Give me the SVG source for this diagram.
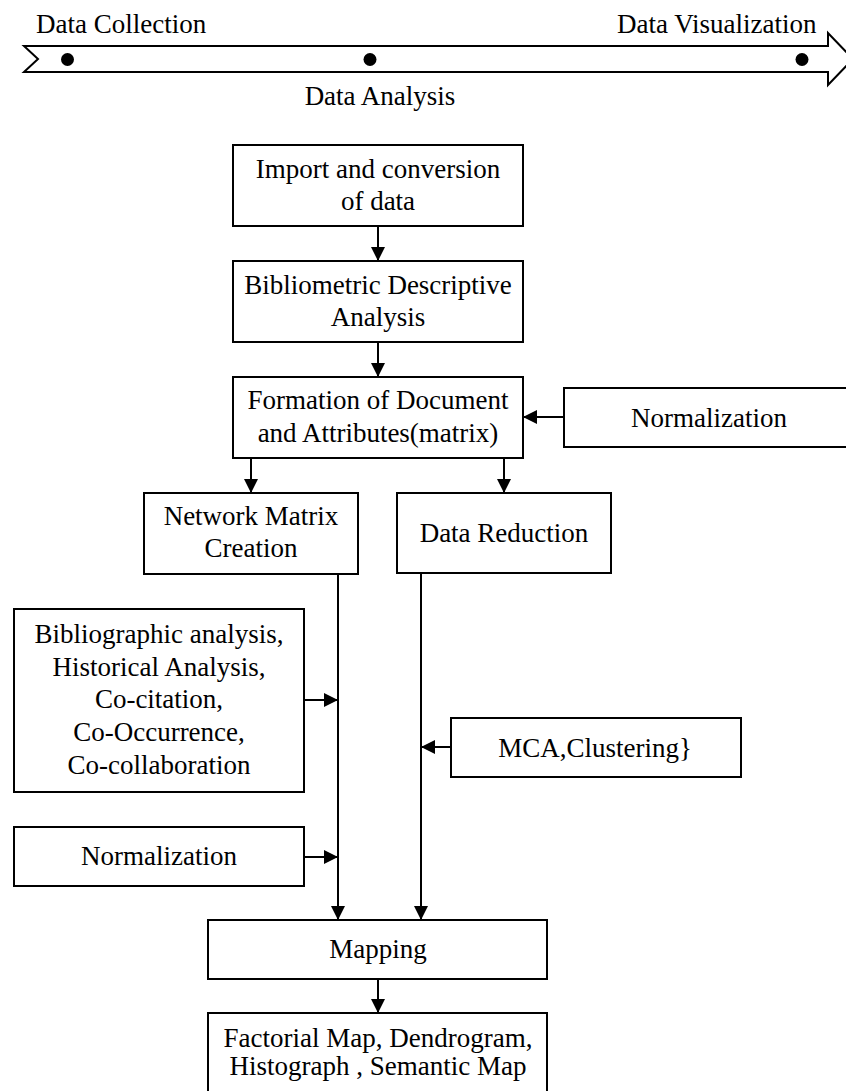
<svg xmlns="http://www.w3.org/2000/svg" width="846" height="1091" viewBox="0 0 846 1091">
<defs>
<style>
.box{fill:#fff;stroke:#000;stroke-width:2}
.t{font-family:"Liberation Serif","Times New Roman",serif;font-size:27px;fill:#000;text-anchor:middle}
.tl{font-family:"Liberation Serif","Times New Roman",serif;font-size:27px;fill:#000}
.c{fill:none;stroke:#000;stroke-width:2}
</style>
<marker id="ah" viewBox="0 0 14 14" refX="14" refY="7" markerWidth="14" markerHeight="14" markerUnits="userSpaceOnUse" orient="auto">
<path d="M0,0 L14,7 L0,14 z" fill="#000"/>
</marker>
</defs>
<rect width="846" height="1091" fill="#fff"/>

<g id="timeline">
<polygon class="box" points="24,46 828,46 828,33 853,59 828,85 828,72 24,72 38,59"/>
<circle cx="67.5" cy="59.5" r="6.5" fill="#000"/>
<circle cx="370" cy="59.5" r="6.5" fill="#000"/>
<circle cx="802" cy="59.5" r="6.5" fill="#000"/>
<text class="tl" x="36" y="33">Data Collection</text>
<text class="tl" x="617" y="33">Data Visualization</text>
<text class="t" x="380" y="105">Data Analysis</text>
</g>

<g id="connectors">
<line class="c" x1="378" y1="226" x2="378" y2="261" marker-end="url(#ah)"/>
<line class="c" x1="378" y1="342" x2="378" y2="377" marker-end="url(#ah)"/>
<line class="c" x1="564" y1="417" x2="523" y2="417" marker-end="url(#ah)"/>
<line class="c" x1="251" y1="458" x2="251" y2="493" marker-end="url(#ah)"/>
<line class="c" x1="504" y1="458" x2="504" y2="493" marker-end="url(#ah)"/>
<line class="c" x1="338" y1="574" x2="338" y2="920" marker-end="url(#ah)"/>
<line class="c" x1="421" y1="573" x2="421" y2="920" marker-end="url(#ah)"/>
<line class="c" x1="304" y1="700" x2="338" y2="700" marker-end="url(#ah)"/>
<line class="c" x1="451" y1="747" x2="421" y2="747" marker-end="url(#ah)"/>
<line class="c" x1="304" y1="857" x2="338" y2="857" marker-end="url(#ah)"/>
<line class="c" x1="378" y1="979" x2="378" y2="1013" marker-end="url(#ah)"/>
</g>

<g id="import">
<rect class="box" x="233" y="145" width="290" height="81"/>
<text class="t" x="378" y="178">Import and conversion</text>
<text class="t" x="378" y="210">of data</text>
</g>

<g id="descriptive">
<rect class="box" x="233" y="261" width="290" height="81"/>
<text class="t" x="378" y="294">Bibliometric Descriptive</text>
<text class="t" x="378" y="326">Analysis</text>
</g>

<g id="formation">
<rect class="box" x="233" y="377" width="290" height="81"/>
<text class="t" x="378" y="409">Formation of Document</text>
<text class="t" x="378" y="442">and Attributes(matrix)</text>
</g>

<g id="normalization-right">
<rect class="box" x="564" y="388" width="290" height="59"/>
<text class="t" x="709" y="427">Normalization</text>
</g>

<g id="network">
<rect class="box" x="144" y="493" width="214" height="81"/>
<text class="t" x="251" y="525">Network Matrix</text>
<text class="t" x="251" y="557">Creation</text>
</g>

<g id="reduction">
<rect class="box" x="397" y="493" width="214" height="80"/>
<text class="t" x="504" y="542">Data Reduction</text>
</g>

<g id="biblio">
<rect class="box" x="14" y="609" width="290" height="183"/>
<text class="t" x="159" y="643">Bibliographic analysis,</text>
<text class="t" x="159" y="676">Historical Analysis,</text>
<text class="t" x="159" y="708">Co-citation,</text>
<text class="t" x="159" y="741">Co-Occurrence,</text>
<text class="t" x="159" y="774">Co-collaboration</text>
</g>

<g id="mca">
<rect class="box" x="451" y="718" width="290" height="59"/>
<text class="t" x="595" y="757">MCA,Clustering}</text>
</g>

<g id="normalization-left">
<rect class="box" x="14" y="827" width="290" height="59"/>
<text class="t" x="159" y="865">Normalization</text>
</g>

<g id="mapping">
<rect class="box" x="208" y="920" width="339" height="59"/>
<text class="t" x="378" y="958">Mapping</text>
</g>

<g id="maps">
<rect class="box" x="208" y="1013" width="339" height="90"/>
<text class="t" x="378" y="1047">Factorial Map, Dendrogram,</text>
<text class="t" x="378" y="1075">Histograph , Semantic Map</text>
</g>
</svg>
